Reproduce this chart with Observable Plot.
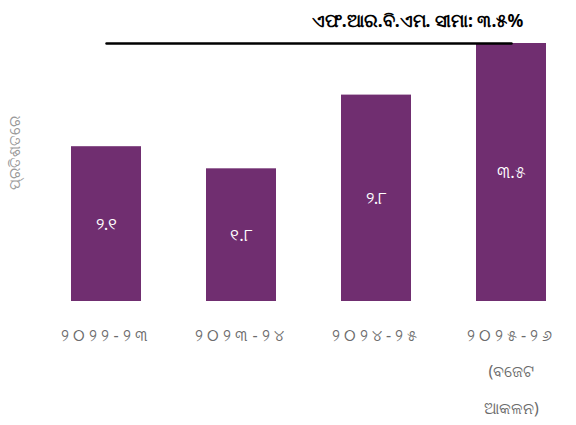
<!DOCTYPE html>
<html>
<head>
<meta charset="utf-8">
<script src="https://cdn.jsdelivr.net/npm/d3@7"></script>
<script src="https://cdn.jsdelivr.net/npm/@observablehq/plot@0.6"></script>
<style>
  html, body { margin: 0; padding: 0; background: #fff; }
  #chart svg { display: block; }
  #chart g[aria-label="x-axis tick label"] text { letter-spacing: 4px; }
  #chart g[aria-label="x-axis tick label"] text tspan:not(:first-child) { letter-spacing: 0; }
</style>
</head>
<body>
<div id="chart"></div>
<script>
const categories = ["୨୦୨୨-୨୩", "୨୦୨୩-୨୪", "୨୦୨୪-୨୫", "୨୦୨୫-୨୬\n(ବଜେଟ\nଆକଳନ)"];
const values = [2.1, 1.8, 2.8, 3.5];
const valueLabels = ["୨.୧", "୧.୮", "୨.୮", "୩.୫"];
const limitValue = 3.5;
const limitLabel = "ଏଫ.ଆର.ବି.ଏମ. ସୀମା: ୩.୫%";
const yLabel = "ପ୍ରତିଶତରେ";

const data = categories.map((c, i) => ({cat: c, value: values[i], label: valueLabels[i]}));
const limitLine = [{cat: categories[0], value: limitValue}, {cat: categories[categories.length - 1], value: limitValue}];

const chart = Plot.plot({
  width: 576,
  height: 425,
  marginTop: 43,
  marginBottom: 124,
  marginLeft: 38,
  marginRight: 0,
  style: {fontFamily: "'Noto Sans', sans-serif", background: "#fff"},
  x: {domain: categories, paddingInner: 0.48, paddingOuter: 0.243, range: [38, 580], label: null},
  y: {domain: [0, 3.5], axis: null},
  marks: [
    Plot.barY(data, {x: "cat", y: "value", fill: "#702e70"}),
    Plot.ruleY([0], {x1: 38, x2: 576, stroke: "#d9d9d9", strokeWidth: 1}),
    Plot.line(limitLine, {x: "cat", y: "value", stroke: "#000", strokeWidth: 2.5}),
    Plot.text(data, {x: "cat", y: d => d.value / 2, text: "label", fill: "#fff", fontSize: 17}),
    Plot.text([limitLabel], {x: () => categories[categories.length - 1], y: () => limitValue, text: d => d, textAnchor: "middle", dx: -94, dy: -22, fontSize: 17.5, fontWeight: "bold", fill: "#000"}),
    Plot.axisX({tickSize: 0, tickPadding: 13, fontSize: 16, lineHeight: 2.3, color: "#6b6b6b", label: null}),
    Plot.text([yLabel], {frameAnchor: "left", textAnchor: "middle", text: d => d, rotate: -90, dx: -23, dy: -20, fontSize: 15, fill: "#999"})
  ]
});
document.getElementById("chart").appendChild(chart);
</script>
</body>
</html>
